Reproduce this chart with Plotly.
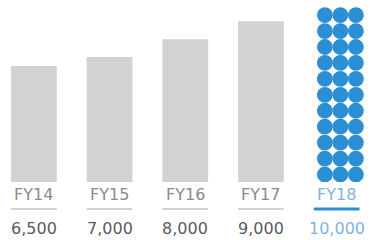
import numpy as np
import plotly.graph_objects as go

categories = ["FY14", "FY15", "FY16", "FY17", "FY18"]
values = [6500, 7000, 8000, 9000, 10000]
value_labels = ["6,500", "7,000", "8,000", "9,000", "10,000"]
highlight = 4  # FY18 drawn as dots

GREY_BAR = "#d1d2d4"
BLUE = "#2b8fd4"
LABEL_GREY = "#8a8a8a"
VALUE_GREY = "#5a5b5d"
LIGHT_BLUE = "#7fb3e3"
LINE_GREY = "#d1d2d4"

x = list(range(len(categories)))
fig = go.Figure()

bx = [x[i] for i in range(len(x)) if i != highlight]
by = [values[i] for i in range(len(x)) if i != highlight]
fig.add_trace(go.Bar(x=bx, y=by, width=0.604, marker=dict(color=GREY_BAR, line=dict(width=0)),
                     hoverinfo="skip"))

# dot grid for highlighted year
cols, rows = 3, 11
hv = values[highlight]
col_off = np.array([-0.205, 0.0, 0.205]) + 0.05
row_frac = np.linspace(0.042, 0.935, rows)
dx, dy = [], []
for r in row_frac:
    for c in col_off:
        dx.append(x[highlight] + c)
        dy.append(hv * r)
fig.add_trace(go.Scatter(x=dx, y=dy, mode="markers",
                         marker=dict(size=15.8, color=BLUE, line=dict(width=0)),
                         hoverinfo="skip", cliponaxis=True))

PH = 182.0  # plot height in px
def py(p):
    return (PH - p) / PH

for i, cat in enumerate(categories):
    hi = i == highlight
    fig.add_annotation(x=x[i], y=py(194.5), xref="x", yref="paper", text=cat, showarrow=False,
                       yanchor="middle", font=dict(size=16, color=LIGHT_BLUE if hi else LABEL_GREY,
                                                   family="DejaVu Sans"))
    fig.add_annotation(x=x[i], y=py(228), xref="x", yref="paper", text=value_labels[i], showarrow=False,
                       yanchor="middle", font=dict(size=16, color=LIGHT_BLUE if hi else VALUE_GREY,
                                                   family="DejaVu Sans"))
    fig.add_shape(type="line", xref="x", yref="paper", x0=x[i] - 0.302, x1=x[i] + 0.302,
                  y0=py(209), y1=py(209),
                  line=dict(color=BLUE if hi else LINE_GREY, width=3 if hi else 2))

fig.update_layout(
    width=373, height=240, margin=dict(l=0, r=0, t=0, b=58),
    paper_bgcolor="white", plot_bgcolor="white", showlegend=False,
    xaxis=dict(range=[-0.448, 4.481], visible=False, fixedrange=True),
    yaxis=dict(range=[0, 10196], visible=False, fixedrange=True),
)
fig.write_html("out.html", config={"displayModeBar": False},
               post_script="document.body.style.margin='0';document.body.style.padding='0';")
